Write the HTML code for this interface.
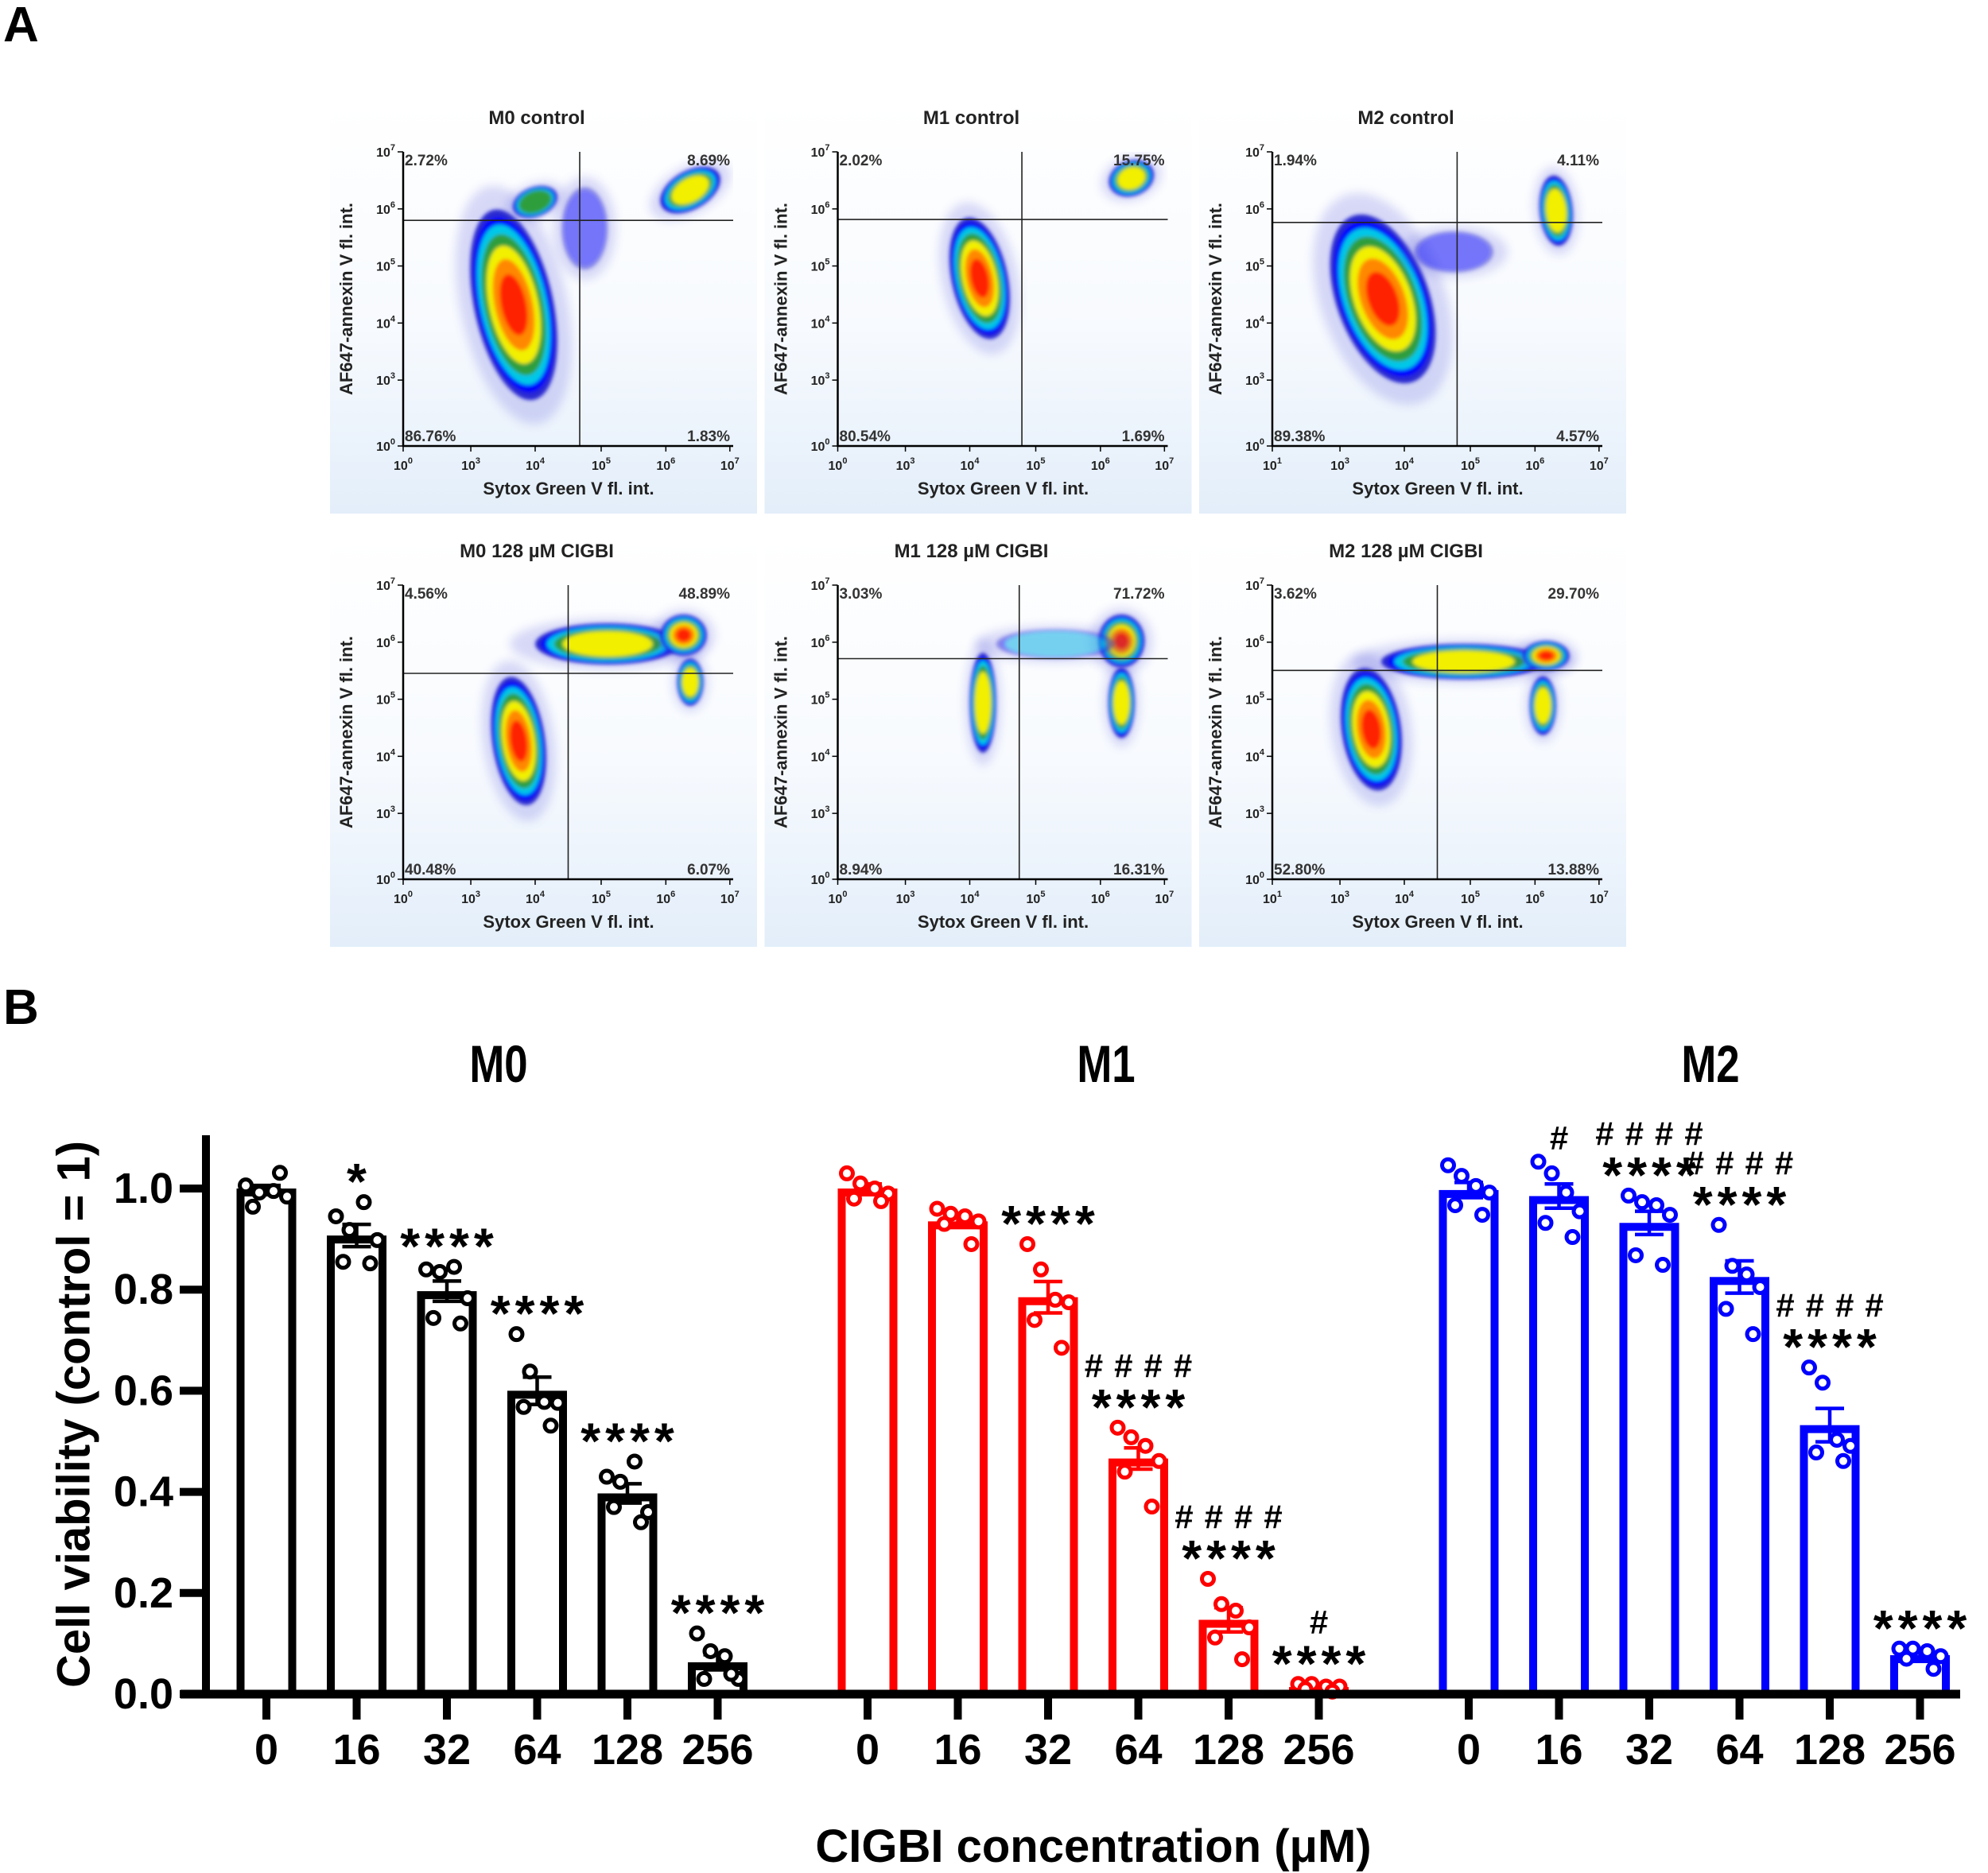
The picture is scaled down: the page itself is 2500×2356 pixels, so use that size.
<!DOCTYPE html>
<html><head><meta charset="utf-8">
<style>
html,body{margin:0;padding:0;background:#fff;}
svg{display:block;font-family:"Liberation Sans",Arial,sans-serif;}
</style></head>
<body>
<svg id="fig" width="2500" height="2356" viewBox="0 0 2500 2356" xmlns="http://www.w3.org/2000/svg">
<defs>
<linearGradient id="panelBg" x1="0" y1="0" x2="0" y2="1">
<stop offset="0" stop-color="#ffffff"/><stop offset="0.55" stop-color="#f7fafe"/><stop offset="1" stop-color="#e3eefa"/>
</linearGradient>
<filter id="blur" x="-20%" y="-20%" width="140%" height="140%"><feGaussianBlur stdDeviation="2.5"/></filter>
<filter id="haze" x="-30%" y="-30%" width="160%" height="160%"><feGaussianBlur stdDeviation="6"/></filter>
</defs>
<text x="4" y="52" font-size="62" font-weight="bold">A</text>
<text x="4" y="1288" font-size="62" font-weight="bold">B</text>
<g id="flow"></g>
<g id="bars"></g>
</svg>
<script>
// ---------- Bar chart data ----------
const groups = ["M0", "M1", "M2"];
const concentrations = ["0", "16", "32", "64", "128", "256"];
const yTicks = [0, 0.2, 0.4, 0.6, 0.8, 1.0];
const yTickLabels = ["0.0", "0.2", "0.4", "0.6", "0.8", "1.0"];
const meansM0 = [1.0, 0.907, 0.797, 0.600, 0.397, 0.063];
const meansM1 = [1.0, 0.935, 0.785, 0.466, 0.147, 0.014];
const meansM2 = [0.997, 0.985, 0.932, 0.825, 0.532, 0.077];
const semM0 = [0.006, 0.022, 0.020, 0.027, 0.019, 0.015];
const semM1 = [0.009, 0.011, 0.031, 0.021, 0.024, 0.003];
const semM2 = [0.015, 0.024, 0.023, 0.032, 0.033, 0.006];
const ptsM0 = [[1.006,0.992,0.995,0.984,0.964,1.031],[0.945,0.918,0.973,0.898,0.855,0.852],[0.84,0.835,0.845,0.783,0.744,0.733],[0.712,0.638,0.578,0.576,0.568,0.531],[0.43,0.42,0.46,0.36,0.37,0.34],[0.12,0.085,0.075,0.03,0.03,0.04]];
const ptsM1 = [[1.03,1.01,1.0,0.99,0.98,0.975],[0.96,0.95,0.945,0.935,0.93,0.89],[0.89,0.84,0.78,0.775,0.74,0.685],[0.527,0.508,0.491,0.461,0.44,0.371],[0.228,0.178,0.165,0.132,0.112,0.069],[0.02,0.02,0.015,0.015,0.01,0.005]];
const ptsM2 = [[1.046,1.025,1.005,0.992,0.967,0.948],[1.053,1.03,0.992,0.955,0.932,0.904],[0.986,0.973,0.967,0.948,0.868,0.849],[0.928,0.847,0.83,0.805,0.762,0.712],[0.646,0.616,0.503,0.491,0.478,0.461],[0.09,0.09,0.085,0.075,0.07,0.05]];
const starsM0 = ["", "*", "****", "****", "****", "****"];
const starsM1 = ["", "", "****", "****", "****", "****"];
const starsM2 = ["", "", "****", "****", "****", "****"];
const hashM0 = ["", "", "", "", "", ""];
const hashM1 = ["", "", "", "####", "####", "#"];
const hashM2 = ["", "#", "####", "####", "####", ""];

const NS = "http://www.w3.org/2000/svg";
function mk(tag, attrs, parent) {
  const e = document.createElementNS(NS, tag);
  for (const k in attrs) e.setAttribute(k, attrs[k]);
  if (parent) parent.appendChild(e);
  return e;
}
const Y0 = 2131, YPX = 636;
function yScale(v) { return Y0 - YPX * v; }
const groupStart = [335, 1091, 1847], barStep = 113.5;
function xScale(g, i) { return groupStart[g] + i * barStep; }

const bars = document.getElementById("bars");
const colors = ["#000000", "#ff0000", "#0000ff"];
const means = [meansM0, meansM1, meansM2];
const sems = [semM0, semM1, semM2];
const pts = [ptsM0, ptsM1, ptsM2];
const stars = [starsM0, starsM1, starsM2];
const hashes = [hashM0, hashM1, hashM2];
const jitter = [-26, -9, 9, 26, -17, 17];
const titleX = [627, 1391, 2151];

let ax = mk("line", {x1: 259, y1: 1428, x2: 259, y2: 2136, stroke: "#000", "stroke-width": 10}, bars);


yTicks.forEach((t, k) => {
  const tl = mk("line", {x1: 226, y1: yScale(t), x2: 259, y2: yScale(t), stroke: "#000", "stroke-width": 10}, bars);
  
  
  const tx = mk("text", {x: 218, y: yScale(t), "text-anchor": "end", "dominant-baseline": "central", "font-size": 54, "font-weight": "bold"}, bars);
  tx.textContent = yTickLabels[k];
  
  
});
let yt = mk("text", {x: 0, y: 0, "text-anchor": "middle", "dominant-baseline": "central", "font-size": 58, "font-weight": "bold", transform: "translate(93,1779) rotate(-90)"}, bars);
yt.textContent = "Cell viability (control = 1)";


let xt = mk("text", {x: 1375, y: 2342, "text-anchor": "middle", "font-size": 58, "font-weight": "bold"}, bars);
xt.textContent = "CIGBI concentration (\u03BCM)";



groups.forEach((gname, g) => {
  const gg = mk("g", {}, bars);
  
  
  const tt = mk("text", {x: 0, y: 0, "text-anchor": "middle", "font-size": 66, "font-weight": "bold", transform: "translate(" + titleX[g] + ",1361) scale(0.8,1)"}, gg);
  tt.textContent = gname;
  
  
  const col = colors[g];
  concentrations.forEach((c, i) => {
    const cx = xScale(g, i), m = means[g][i], s = sems[g][i];
    const top = yScale(m);
    const r = mk("rect", {x: cx - 32.5, y: top + 5, width: 65, height: Math.max(0, Y0 - top - 5), fill: "#fff", stroke: col, "stroke-width": 10}, gg);
    
    
    const e = mk("g", {stroke: col, "stroke-width": 4.5}, gg);
    
    
    mk("line", {x1: cx, y1: yScale(m - s), x2: cx, y2: yScale(m + s)}, e);
    mk("line", {x1: cx - 18, y1: yScale(m + s), x2: cx + 18, y2: yScale(m + s)}, e);
    mk("line", {x1: cx - 18, y1: yScale(m - s), x2: cx + 18, y2: yScale(m - s)}, e);
    let mx = 0;
    pts[g][i].forEach((p, k) => {
      mx = Math.max(mx, p);
      const ci = mk("circle", {cx: cx + jitter[k], cy: yScale(p), r: 7.5, fill: "#fff", stroke: col, "stroke-width": 5}, gg);
      
      
    });
    const tk = mk("line", {x1: cx, y1: Y0, x2: cx, y2: 2163, stroke: "#000", "stroke-width": 10}, gg);
    
    
    const xl = mk("text", {x: cx, y: 2219, "text-anchor": "middle", "font-size": 54, "font-weight": "bold"}, gg);
    xl.textContent = c;
    
    
    let annY = yScale(mx) - 30;
    if (stars[g][i]) {
      const st = mk("text", {x: cx + 3, y: annY + 4, "text-anchor": "middle", "dominant-baseline": "central", "font-size": 64, "font-weight": "bold", "letter-spacing": 6}, gg);
      st.textContent = stars[g][i];
      
      
      annY -= 48;
    }
    if (hashes[g][i]) {
      const hs = mk("text", {x: cx + 7, y: annY, "text-anchor": "middle", "dominant-baseline": "central", "font-size": 42, "font-weight": "bold", "letter-spacing": 14}, gg);
      hs.textContent = hashes[g][i];
      
      
    }
  });
});
let xa = mk("line", {x1: 227, y1: Y0, x2: 2465, y2: Y0, stroke: "#000", "stroke-width": 11}, bars);



// ---------- Flow cytometry panels ----------
const flowTitles = ["M0 control", "M1 control", "M2 control", "M0 128 \u00B5M CIGBI", "M1 128 \u00B5M CIGBI", "M2 128  \u00B5M CIGBI"];
const pctUL = ["2.72%", "2.02%", "1.94%", "4.56%", "3.03%", "3.62%"];
const pctUR = ["8.69%", "15.75%", "4.11%", "48.89%", "71.72%", "29.70%"];
const pctLL = ["86.76%", "80.54%", "89.38%", "40.48%", "8.94%", "52.80%"];
const pctLR = ["1.83%", "1.69%", "4.57%", "6.07%", "16.31%", "13.88%"];
const gateX = [0.535, 0.558, 0.56, 0.50, 0.55, 0.50];
const gateY = [0.767, 0.77, 0.76, 0.70, 0.75, 0.71];
const blobs = [
  [[0.335,0.48,0.12,0.33,-12,7],[0.87,0.87,0.10,0.065,-30,5],[0.40,0.83,0.07,0.05,-20,4],[0.55,0.74,0.07,0.14,0,2]],
  [[0.43,0.57,0.085,0.21,-12,7],[0.89,0.91,0.07,0.06,-20,5]],
  [[0.335,0.50,0.14,0.30,-20,7],[0.86,0.80,0.05,0.12,-5,5],[0.55,0.66,0.12,0.07,0,2]],
  [[0.35,0.47,0.08,0.22,-8,7],[0.62,0.80,0.22,0.07,0,5],[0.85,0.83,0.07,0.07,0,7],[0.87,0.67,0.04,0.08,0,5]],
  [[0.44,0.60,0.04,0.17,0,5],[0.86,0.81,0.07,0.09,0,7],[0.86,0.60,0.04,0.12,0,5],[0.66,0.80,0.18,0.05,0,3]],
  [[0.30,0.51,0.09,0.21,-8,7],[0.58,0.74,0.25,0.06,0,5],[0.83,0.76,0.07,0.05,0,7],[0.82,0.59,0.04,0.10,0,5]]
];
const layerColors = ["#2a2ad0", "#0000ff", "#00c8e8", "#2e9e3e", "#f2f000", "#ff8800", "#ff2000"];
const layerScale = [1.0, 0.92, 0.84, 0.74, 0.62, 0.48, 0.32];
const xTickPos = [0, 0.205, 0.40, 0.60, 0.796, 0.99];
const xTickExpCtrl = ["0", "3", "4", "5", "6", "7"];
const yTickPos = [0, 0.224, 0.418, 0.612, 0.806, 1.0];
const yTickExp = ["0", "3", "4", "5", "6", "7"];

const flow = document.getElementById("flow");
for (let p = 0; p < 6; p++) {
  const col = p % 3, row = Math.floor(p / 3);
  const bx = 415 + col * 546.5, by = 160 + row * 545;
  const L = bx + 92, T = by + 31, W = 415, H = 370;
  const fg = mk("g", {}, flow);
  
  
  mk("rect", {x: bx, y: by - 30, width: 537, height: 516, fill: "url(#panelBg)"}, fg);
  const tt = mk("text", {x: bx + 260, y: by - 4, "text-anchor": "middle", "font-size": 24, "font-weight": "bold", fill: "#222"}, fg);
  tt.textContent = flowTitles[p];
  
  
  const clipId = "clip" + p;
  const cp = mk("clipPath", {id: clipId}, fg);
  mk("rect", {x: L, y: T, width: W, height: H}, cp);
  const dens = mk("g", {"clip-path": "url(#" + clipId + ")"}, fg);
  
  
  blobs[p].forEach(b => {
    const cx = L + b[0] * W, cy = T + H - b[1] * H, rx = b[2] * W, ry = b[3] * H;
    const bgp = mk("g", {transform: "rotate(" + b[4] + " " + cx + " " + cy + ")"}, dens);
    mk("ellipse", {cx: cx, cy: cy, rx: rx * 1.35, ry: ry * 1.25, fill: "#4a4ad8", opacity: 0.2, filter: "url(#haze)"}, bgp);
    const lg = mk("g", {filter: "url(#blur)", opacity: b[5] <= 3 ? 0.45 : 1}, bgp);
    for (let k = 0; k < b[5]; k++) {
      mk("ellipse", {cx: cx, cy: cy, rx: rx * layerScale[k], ry: ry * layerScale[k], fill: layerColors[k]}, lg);
    }
  });
  mk("line", {x1: L + gateX[p] * W, y1: T, x2: L + gateX[p] * W, y2: T + H, stroke: "#222", "stroke-width": 1.6}, fg);
  mk("line", {x1: L, y1: T + H - gateY[p] * H, x2: L + W, y2: T + H - gateY[p] * H, stroke: "#222", "stroke-width": 1.6}, fg);
  mk("line", {x1: L, y1: T, x2: L, y2: T + H + 1, stroke: "#000", "stroke-width": 2.5}, fg);
  mk("line", {x1: L - 1, y1: T + H, x2: L + W, y2: T + H, stroke: "#000", "stroke-width": 2.5}, fg);
  xTickPos.forEach((f, k) => {
    mk("line", {x1: L + f * W, y1: T + H, x2: L + f * W, y2: T + H + 7, stroke: "#000", "stroke-width": 1.5}, fg);
    const t = mk("text", {x: L + f * W, y: T + H + 30, "text-anchor": "middle", "font-size": 16, "font-weight": "bold", fill: "#222"}, fg);
    t.innerHTML = '10<tspan dy="-8" font-size="11">' + (p % 3 === 2 && k === 0 ? "1" : xTickExpCtrl[k]) + '</tspan>';
    
    
  });
  yTickPos.forEach((f, k) => {
    mk("line", {x1: L - 7, y1: T + H - f * H, x2: L, y2: T + H - f * H, stroke: "#000", "stroke-width": 1.5}, fg);
    const t = mk("text", {x: L - 10, y: T + H - f * H + 6, "text-anchor": "end", "font-size": 16, "font-weight": "bold", fill: "#222"}, fg);
    t.innerHTML = '10<tspan dy="-8" font-size="11">' + yTickExp[k] + '</tspan>';
    
    
  });
  const xl = mk("text", {x: bx + 300, y: by + 462, "text-anchor": "middle", "font-size": 22, "font-weight": "bold", fill: "#222"}, fg);
  xl.textContent = "Sytox Green V fl. int.";
  
  
  const yl = mk("text", {x: 0, y: 0, "text-anchor": "middle", "font-size": 22, "font-weight": "bold", fill: "#222", transform: "translate(" + (bx + 28) + "," + (by + 216) + ") rotate(-90)"}, fg);
  yl.textContent = "AF647-annexin V fl. int.";
  
  
  const q = [[pctUL[p], L + 2, T + 17, "start"], [pctUR[p], L + W - 4, T + 17, "end"], [pctLL[p], L + 2, T + H - 6, "start"], [pctLR[p], L + W - 4, T + H - 6, "end"]];
  q.forEach(a => {
    const t = mk("text", {x: a[1], y: a[2], "text-anchor": a[3], "font-size": 19, "font-weight": "bold", fill: "#333"}, fg);
    t.textContent = a[0];
    
    
  });
}
</script>
</body></html>
